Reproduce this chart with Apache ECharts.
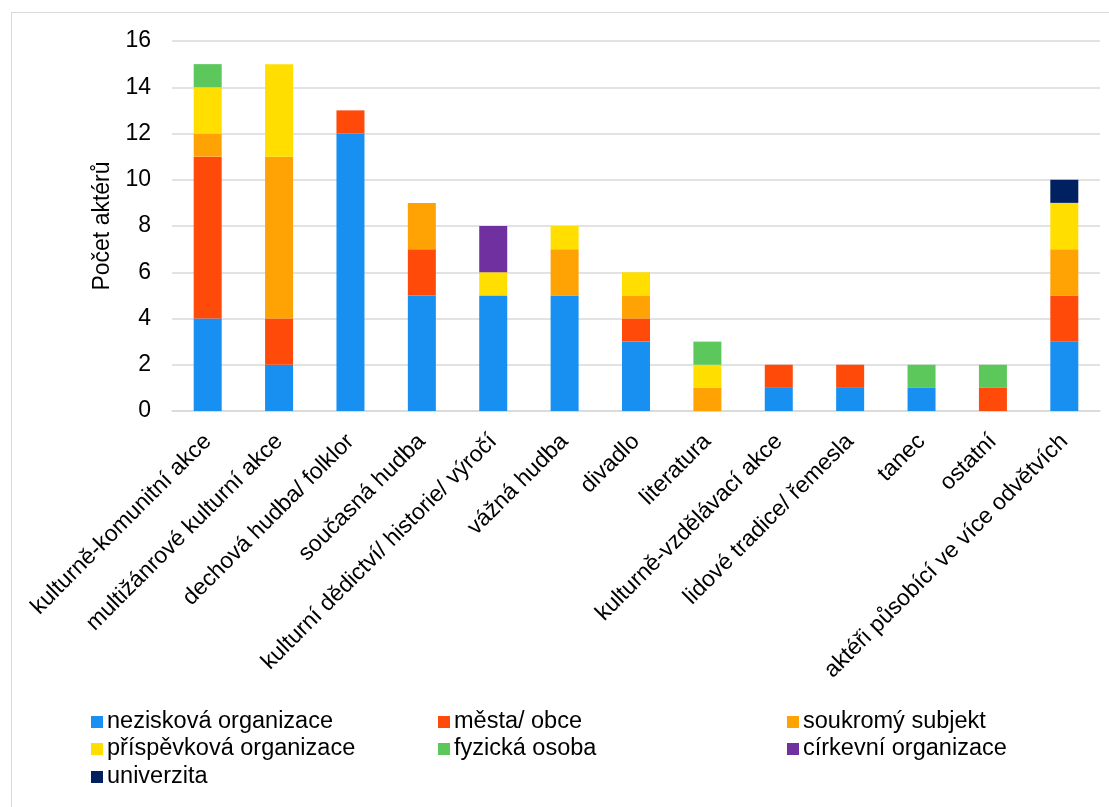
<!DOCTYPE html>
<html>
<head>
<meta charset="utf-8">
<script src="https://cdn.jsdelivr.net/npm/echarts@6/dist/echarts.min.js"></script>
<style>
html,body{margin:0;padding:0;background:#fff;}
#frame{position:absolute;left:11px;top:12px;width:1120px;height:820px;border:1.5px solid #d9d9d9;box-sizing:border-box;}
#chart{position:absolute;left:0;top:0;width:1109px;height:807px;}
</style>
</head>
<body>
<div id="frame"></div>
<div id="chart"></div>
<script>
const categories = [
  'kulturně-komunitní akce',
  'multižánrové kulturní akce',
  'dechová hudba/ folklor',
  'současná hudba',
  'kulturní dědictví/ historie/ výročí',
  'vážná hudba',
  'divadlo',
  'literatura',
  'kulturně-vzdělávací akce',
  'lidové tradice/ řemesla',
  'tanec',
  'ostatní',
  'aktéři působící ve více odvětvích'
];
const seriesNames = ['nezisková organizace','města/ obce','soukromý subjekt','příspěvková organizace','fyzická osoba','církevní organizace','univerzita'];
const neziskova   = [4, 2, 12, 5, 5, 5, 3, 0, 1, 1, 1, 0, 3];
const mesta       = [7, 2, 1, 2, 0, 0, 1, 0, 1, 1, 0, 1, 2];
const soukromy    = [1, 7, 0, 2, 0, 2, 1, 1, 0, 0, 0, 0, 2];
const prispevkova = [2, 4, 0, 0, 1, 1, 1, 1, 0, 0, 0, 0, 2];
const fyzicka     = [1, 0, 0, 0, 0, 0, 0, 1, 0, 0, 1, 1, 0];
const cirkevni    = [0, 0, 0, 0, 2, 0, 0, 0, 0, 0, 0, 0, 0];
const univerzita  = [0, 0, 0, 0, 0, 0, 0, 0, 0, 0, 0, 0, 1];
const yTicks = [0, 2, 4, 6, 8, 10, 12, 14, 16];

const values = [neziskova, mesta, soukromy, prispevkova, fyzicka, cirkevni, univerzita];
const colors = ['#1890F2', '#FF4A0A', '#FFA305', '#FFDE00', '#5CC85C', '#7030A0', '#002060'];
const FONT = 'Liberation Sans, Arial, sans-serif';

const legendPos = [
  [91, 710], [438, 710], [787, 710],
  [91, 737], [438, 737], [787, 737],
  [91, 765]
];

const chart = echarts.init(document.getElementById('chart'));
chart.setOption({
  animation: false,
  color: colors,
  textStyle: { fontFamily: FONT },
  grid: { left: 172, right: 9, top: 41, bottom: 396, containLabel: false },
  legend: seriesNames.map((n, i) => ({
    data: [n],
    left: legendPos[i][0],
    top: legendPos[i][1],
    padding: 0,
    itemWidth: 12,
    itemHeight: 12,
    itemGap: 5,
    icon: 'rect',
    selectedMode: false,
    textStyle: { fontSize: 23.5, color: '#000', fontFamily: FONT, padding: [0, 0, 0, -1] }
  })),
  xAxis: {
    type: 'category',
    data: categories,
    axisTick: { show: false },
    axisLine: { lineStyle: { color: '#d9d9d9', width: 1.5 } },
    axisLabel: { rotate: 45, interval: 0, fontSize: 23, color: '#000', margin: 27, fontFamily: FONT }
  },
  yAxis: {
    type: 'value',
    min: yTicks[0],
    max: yTicks[yTicks.length - 1],
    interval: 2,
    name: 'Počet aktérů',
    nameLocation: 'middle',
    nameGap: 56,
    nameTextStyle: { fontSize: 23, color: '#000', fontFamily: FONT },
    axisLine: { show: false },
    axisTick: { show: false },
    axisLabel: { fontSize: 23, color: '#000', margin: 21, fontFamily: FONT },
    splitLine: { lineStyle: { color: '#d9d9d9', width: 1.5 } }
  },
  series: seriesNames.map((n, i) => ({
    name: n,
    type: 'bar',
    stack: 'total',
    barWidth: 28,
    data: values[i],
    itemStyle: { color: colors[i] }
  }))
});
</script>
</body>
</html>
